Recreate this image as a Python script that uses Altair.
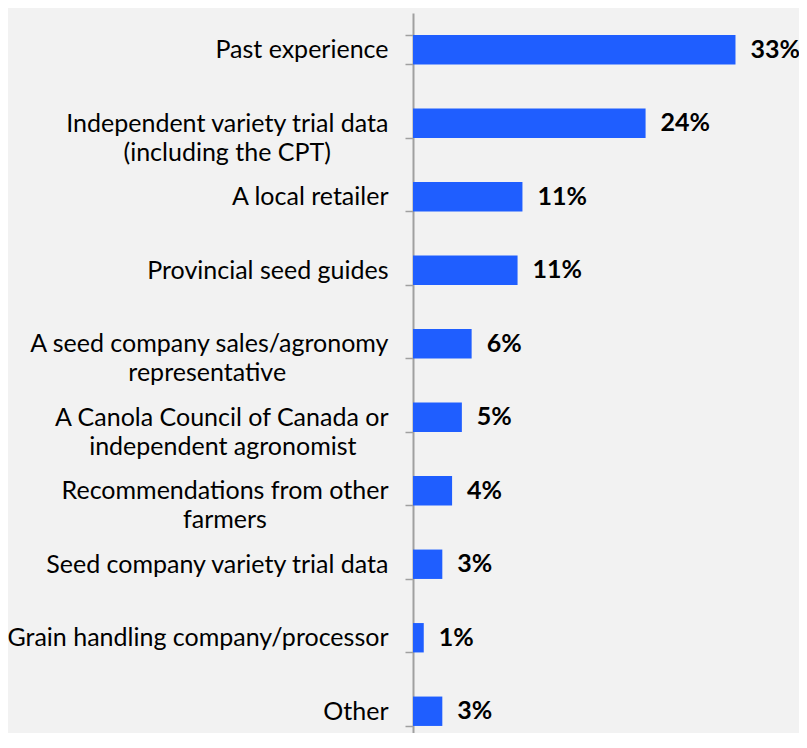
import altair as alt
import pandas as pd

NB = "\u00a0"
ZW = "\u200b"

categories = [
    "Past experience",
    "Independent variety trial data|(including the CPT)" + NB * 9 + ZW,
    "A local retailer",
    "Provincial seed guides",
    "A seed company sales/agronomy|representative" + NB * 16 + ZW,
    "A Canola Council of Canada or|independent agronomist" + NB * 5 + ZW,
    "Recommendations from other|farmers" + NB * 19 + ZW,
    "Seed company variety trial data",
    "Grain handling company/processor",
    "Other",
]
values = [33.0, 23.8, 11.2, 10.7, 6.0, 5.0, 4.0, 3.0, 1.1, 3.0]
value_labels = ["33%", "24%", "11%", "11%", "6%", "5%", "4%", "3%", "1%", "3%"]

df = pd.DataFrame({"cat": categories, "val": values, "lab": value_labels})

FONT = "Lato"

y = alt.Y(
    "cat:N",
    sort=categories,
    scale=alt.Scale(range=[0, 735], paddingInner=0.6, paddingOuter=0.3),
    axis=alt.Axis(
        title=None,
        labelExpr="split(datum.label, '|')",
        labelFont=FONT,
        labelFontSize=25,
        labelColor="#000000",
        labelLineHeight=29,
        labelPadding=17,
        labelLimit=0,
        tickBand="extent",
        tickSize=8,
        tickColor="#a0a0a0",
        tickWidth=1.5,
        domainColor="#a0a0a0",
        domainWidth=2,
        grid=False,
    ),
)
x = alt.X("val:Q", scale=alt.Scale(domain=[0, 39.5], nice=False), axis=None)

base = alt.Chart(df).encode(y=y, x=x)

bars = base.mark_bar(color="#1F5EFF")
text = base.mark_text(
    align="left", baseline="middle", dx=15, font=FONT, fontSize=25, fontWeight="bold", color="#000000"
).encode(text="lab:N")

chart = (
    (bars + text)
    .properties(
        width=386,
        height=720,
        autosize=alt.AutoSizeParams(type="none"),
        padding={"left": 405, "top": 5, "right": 0, "bottom": 0},
        background="#f2f2f2",
    )
    .configure_view(stroke=None)
)

chart.save("out.html", embed_options={"renderer": "svg", "actions": False})
